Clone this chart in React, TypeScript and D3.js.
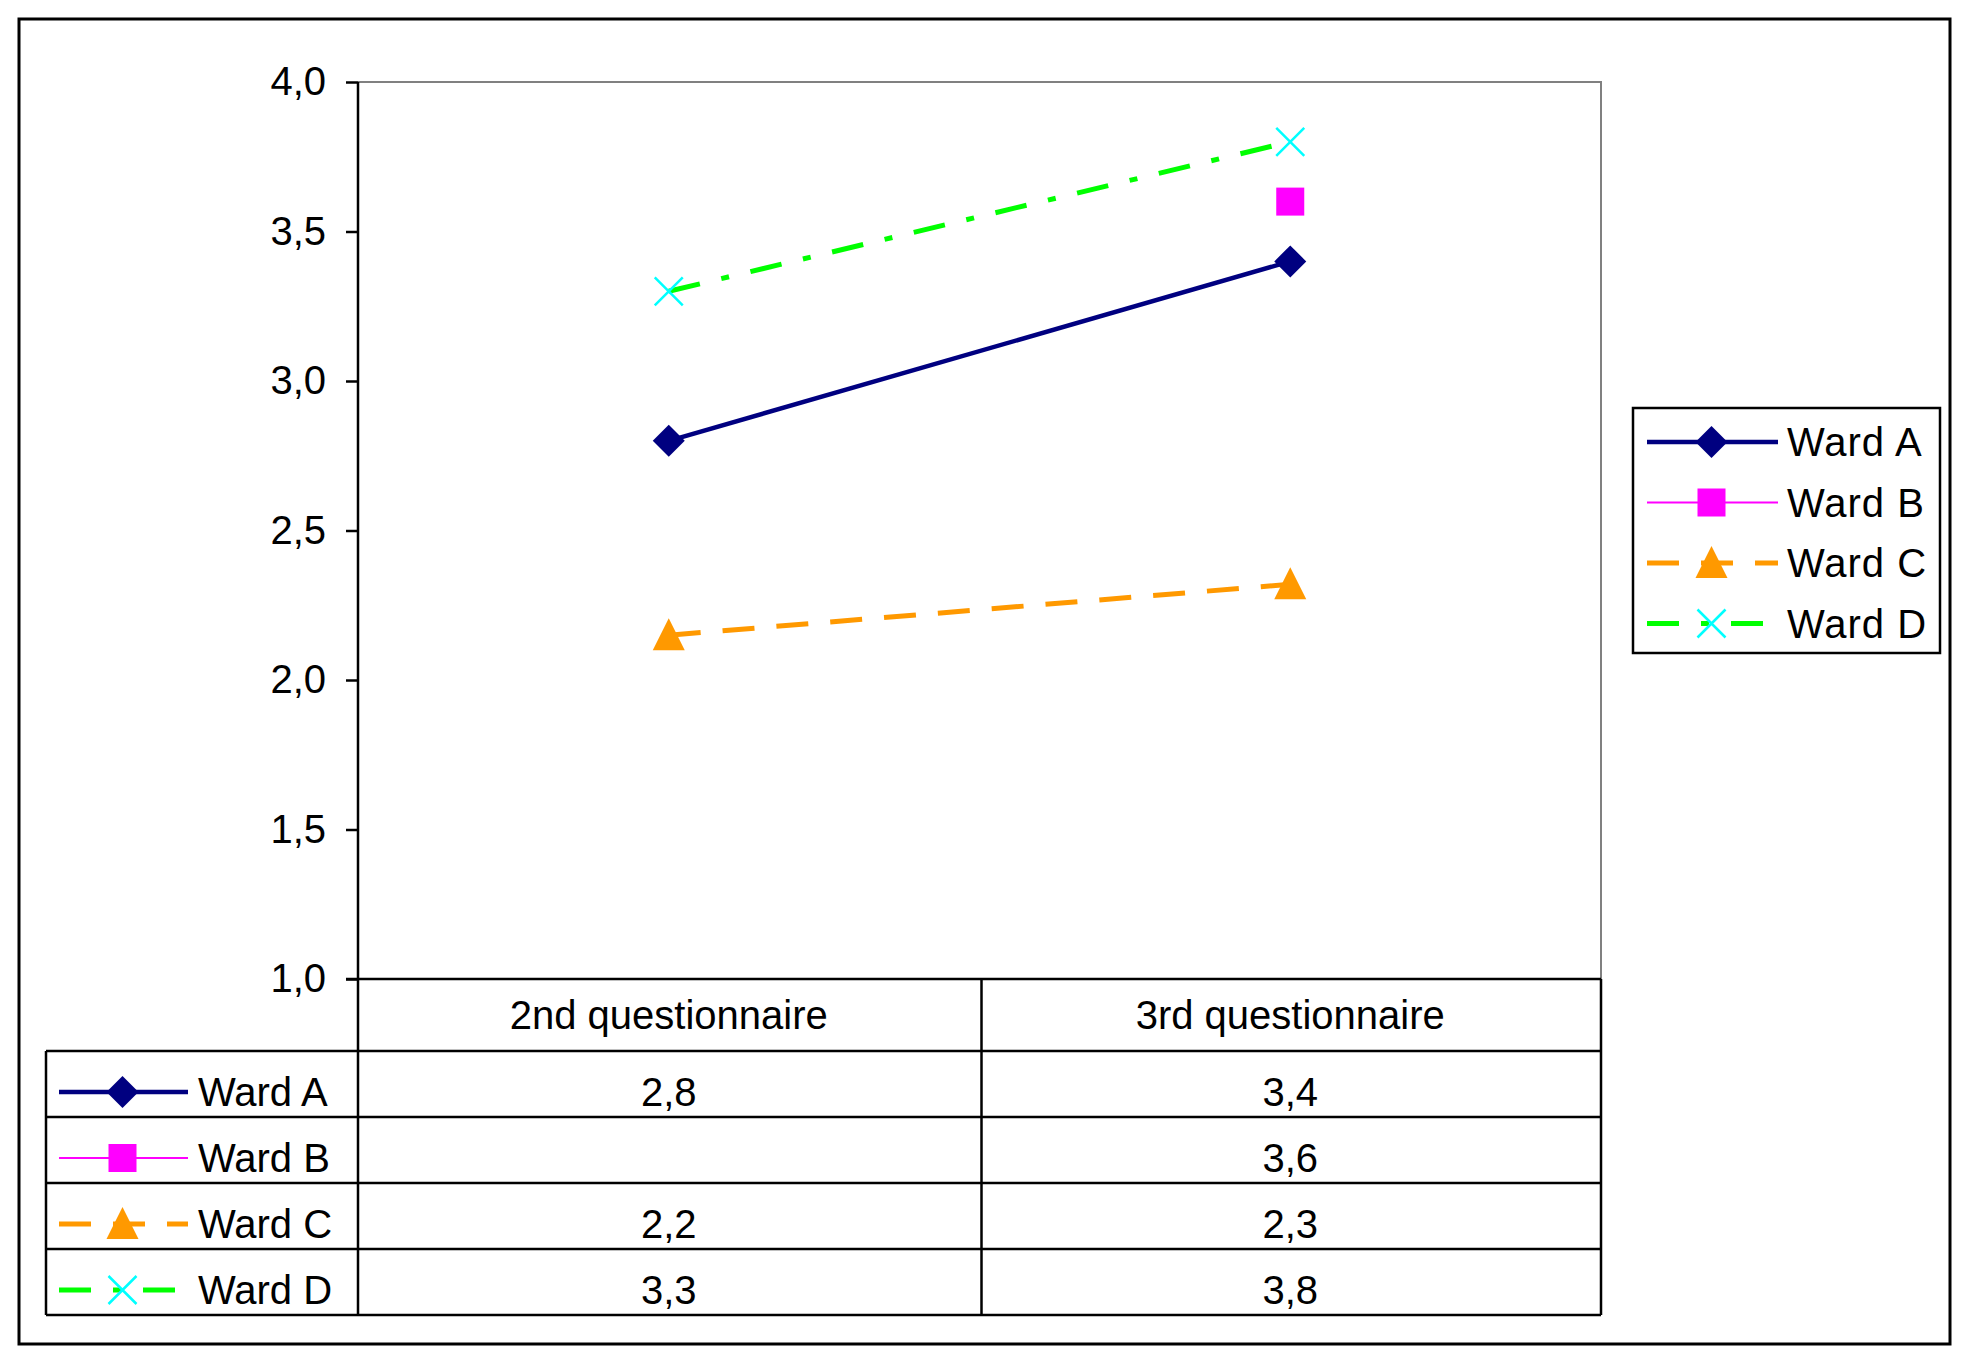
import { useRef, useEffect } from 'react'
import * as d3 from 'd3'

const categories = ['2nd questionnaire', '3rd questionnaire']
const wardNames = ['Ward A', 'Ward B', 'Ward C', 'Ward D']
const wardA: (number | null)[] = [2.8, 3.4]
const wardB: (number | null)[] = [null, 3.6]
const wardC: (number | null)[] = [2.15, 2.32]
const wardD: (number | null)[] = [3.3, 3.8]
const yTicks = [1.0, 1.5, 2.0, 2.5, 3.0, 3.5, 4.0]

const seriesValues = [wardA, wardB, wardC, wardD]

interface Style {
  line: string
  width: number
  dash: string | null
  marker: 'diamond' | 'square' | 'triangle' | 'x'
  markerColor: string
}

const styles: Style[] = [
  { line: '#000080', width: 4.5, dash: null, marker: 'diamond', markerColor: '#000080' },
  { line: '#FF00FF', width: 2, dash: null, marker: 'square', markerColor: '#FF00FF' },
  { line: '#FF9900', width: 5, dash: '32,22', marker: 'triangle', markerColor: '#FF9900' },
  { line: '#00FF00', width: 5, dash: '32,22,8,22', marker: 'x', markerColor: '#00FFFF' },
]

const FONT = '"Liberation Sans", Arial, sans-serif'
const W = 1969
const H = 1360

const plot = { left: 358, top: 82, right: 1601, bottom: 979 }
const table = { left: 46, header: 1051, rowH: 66 }

const fmt = (v: number) => d3.format('.1f')(Math.round(v * 10) / 10).replace('.', ',')

function Marker({ kind, color, x, y }: { kind: Style['marker']; color: string; x: number; y: number }) {
  const t = `translate(${x},${y})`
  if (kind === 'diamond') return <path transform={t} d="M0,-16L16,0L0,16L-16,0Z" fill={color} />
  if (kind === 'square') return <rect x={x - 14} y={y - 14} width={28} height={28} fill={color} />
  if (kind === 'triangle') return <path transform={t} d="M0,-17L16,15L-16,15Z" fill={color} />
  return <path transform={t} d="M-14,-14L14,14M-14,14L14,-14" stroke={color} strokeWidth={2.5} fill="none" />
}

function LegendKey({ s, x1, x2, y }: { s: Style; x1: number; x2: number; y: number }) {
  return (
    <g>
      <line x1={x1} x2={x2} y1={y} y2={y} stroke={s.line} strokeWidth={s.width}
        strokeDasharray={s.dash ?? undefined} />
      <Marker kind={s.marker} color={s.markerColor} x={(x1 + x2) / 2 - 1} y={y} />
    </g>
  )
}

export default function App() {
  const axisRef = useRef<SVGGElement>(null)

  const x = d3.scaleBand<string>().domain(categories).range([plot.left, plot.right])
  const y = d3.scaleLinear().domain([1, 4]).range([plot.bottom, plot.top])
  const cx = (c: string) => (x(c) ?? 0) + x.bandwidth() / 2

  useEffect(() => {
    if (!axisRef.current) return
    const g = d3.select(axisRef.current)
    g.selectAll('*').remove()
    g.call(d3.axisLeft(y).tickValues(yTicks).tickSize(12).tickPadding(20).tickFormat(d => fmt(+d)))
    g.select('.domain').remove()
    g.selectAll('.tick line').attr('stroke', '#000').attr('stroke-width', 2.5)
    g.selectAll('.tick text')
      .attr('font-family', FONT)
      .attr('font-size', 40)
      .attr('fill', '#000')
  }, [])

  const rowTop = (i: number) => table.header + i * table.rowH
  const tableBottom = rowTop(wardNames.length)
  const colDivide = cx(categories[0]) + x.bandwidth() / 2 + 2

  return (
    <svg width={W} height={H} style={{ position: 'absolute', left: 0, top: 0, background: '#fff' }}>
      <rect x={19} y={19} width={1931} height={1325} fill="#fff" stroke="#000" strokeWidth={3} />

      {/* plot frame */}
      <path d={`M${plot.left},${plot.top}H${plot.right}V${plot.bottom}`} fill="none" stroke="#808080" strokeWidth={2} />
      <line x1={plot.left} x2={plot.left} y1={plot.top} y2={tableBottom} stroke="#000" strokeWidth={2.5} />
      <line x1={plot.left - 12} x2={plot.right} y1={plot.bottom} y2={plot.bottom} stroke="#000" strokeWidth={2.5} />
      <g ref={axisRef} transform={`translate(${plot.left},0)`} />

      {/* series */}
      {seriesValues.map((vals, si) => {
        const s = styles[si]
        const pts = categories
          .map((c, i) => ({ c, v: vals[i] }))
          .filter(p => p.v !== null) as { c: string; v: number }[]
        const line = d3.line<{ c: string; v: number }>().x(p => cx(p.c)).y(p => y(p.v))
        return (
          <g key={si}>
            {pts.length > 1 && (
              <path d={line(pts) ?? ''} fill="none" stroke={s.line} strokeWidth={s.width}
                strokeDasharray={s.dash ?? undefined} />
            )}
            {pts.map(p => (
              <Marker key={p.c} kind={s.marker} color={s.markerColor} x={cx(p.c)} y={y(p.v)} />
            ))}
          </g>
        )
      })}

      {/* data table */}
      <g stroke="#000" strokeWidth={2.5}>
        <line x1={plot.right} x2={plot.right} y1={plot.bottom} y2={tableBottom} />
        <line x1={colDivide} x2={colDivide} y1={plot.bottom} y2={tableBottom} />
        <line x1={table.left} x2={table.left} y1={table.header} y2={tableBottom} />
        {wardNames.map((_, i) => (
          <line key={i} x1={table.left} x2={plot.right} y1={rowTop(i)} y2={rowTop(i)} />
        ))}
        <line x1={table.left} x2={plot.right} y1={tableBottom} y2={tableBottom} />
      </g>
      {categories.map(c => (
        <text key={c} x={cx(c)} y={(plot.bottom + table.header) / 2} dy="0.35em" textAnchor="middle"
          fontFamily={FONT} fontSize={40}>{c}</text>
      ))}
      {wardNames.map((name, i) => {
        const ym = rowTop(i) + table.rowH / 2 + 8
        return (
          <g key={name}>
            <LegendKey s={styles[i]} x1={59} x2={188} y={ym} />
            <text x={198} y={ym} dy="0.35em" fontFamily={FONT} fontSize={40}>{name}</text>
            {categories.map((c, ci) => {
              const v = seriesValues[i][ci]
              return v === null ? null : (
                <text key={c} x={cx(c)} y={ym} dy="0.35em" textAnchor="middle" fontFamily={FONT} fontSize={40}>
                  {fmt(v)}
                </text>
              )
            })}
          </g>
        )
      })}

      {/* legend */}
      <rect x={1633} y={408} width={307} height={245} fill="#fff" stroke="#000" strokeWidth={2.5} />
      {wardNames.map((name, i) => {
        const ly = 442 + i * 60.5
        return (
          <g key={name}>
            <LegendKey s={styles[i]} x1={1647} x2={1778} y={ly} />
            <text x={1787} y={ly} dy="0.35em" fontFamily={FONT} fontSize={40} letterSpacing={1}>{name}</text>
          </g>
        )
      })}
    </svg>
  )
}
